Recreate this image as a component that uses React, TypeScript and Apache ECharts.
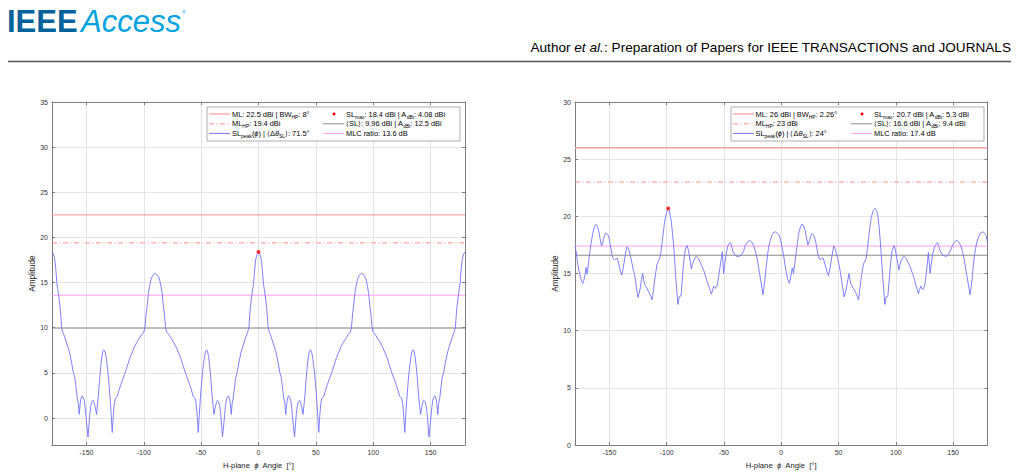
import React, { useEffect, useRef } from "react";
import * as echarts from "echarts";

// Left panel: H-plane pattern (phi in degrees, amplitude in dBi)
const leftPattern: [number, number][] = [
  [-180, 18.4], [-179, 18.2], [-178, 17.8], [-177.3, 17.3], [-176.5, 16.2], [-175.8, 15.0], [-175, 14.3], [-174.2, 13.6],
  [-172.8, 12.1], [-171.6, 10.0], [-170.5, 9.5], [-169, 9.0], [-167, 8.2], [-165, 7.4], [-163, 6.2], [-161.5, 5.1],
  [-160, 4.4], [-159, 3.3], [-158, 2.2], [-157, 1.6], [-156.3, 0.4], [-155.5, 1.5], [-154.7, 2.2], [-153.8, 2.45],
  [-153, 2.35], [-152, 2.0], [-151.2, 1.3], [-150.5, 0.4], [-149.5, -1.0], [-148.6, -2.1], [-147.8, -0.8], [-147, 0.5],
  [-146.2, 1.3], [-145.3, 1.8], [-144.2, 1.95], [-143.3, 1.7], [-142.3, 1.2], [-141.2, 0.4], [-140.4, 1.4], [-139.6, 2.4],
  [-138.5, 4.3], [-137.6, 5.6], [-136.5, 6.8], [-135.5, 7.45], [-134.7, 7.55], [-133.7, 7.3], [-132.8, 6.7], [-132, 5.9],
  [-131, 4.8], [-130.2, 3.6], [-129.3, 2.1], [-128.4, 0.4], [-127.5, -1.6], [-126.6, 0.2], [-125.8, 1.5], [-125, 2.1],
  [-124, 2.3], [-123, 2.4], [-122, 2.9], [-120, 3.7], [-118, 4.4], [-116, 5.1], [-114, 5.9], [-112, 6.7],
  [-110, 7.3], [-108, 7.9], [-106, 8.4], [-104, 8.8], [-102, 9.2], [-100, 9.5], [-99, 10.0], [-98, 11.5],
  [-97, 12.5], [-96, 13.8], [-95, 14.6], [-94, 15.2], [-93, 15.6], [-92, 15.8], [-91, 15.95], [-90, 16.0],
  [-89, 15.95], [-88, 15.8], [-87, 15.6], [-86, 15.2], [-85, 14.6], [-84, 13.8], [-83, 12.5], [-82, 11.5],
  [-81, 10.0], [-80, 9.5], [-78, 9.2], [-76, 8.8], [-74, 8.4], [-72, 7.9], [-70, 7.3], [-68, 6.7],
  [-66, 5.9], [-64, 5.1], [-62, 4.4], [-60, 3.7], [-58, 2.9], [-57, 2.4], [-56, 2.3], [-55, 2.1],
  [-54.2, 1.5], [-53.4, 0.2], [-52.5, -1.6], [-51.6, 0.4], [-50.7, 2.1], [-49.8, 3.6], [-49, 4.8], [-48, 5.9],
  [-47.2, 6.7], [-46.3, 7.3], [-45.3, 7.55], [-44.5, 7.45], [-43.5, 6.8], [-42.4, 5.6], [-41.5, 4.3], [-40.4, 2.4],
  [-39.6, 1.4], [-38.8, 0.4], [-37.7, 1.2], [-36.7, 1.7], [-35.8, 1.95], [-34.7, 1.8], [-33.8, 1.3], [-33, 0.5],
  [-32.2, -0.8], [-31.4, -2.1], [-30.5, -1.0], [-29.5, 0.4], [-28.8, 1.3], [-28, 2.0], [-27, 2.35], [-26.2, 2.45],
  [-25.3, 2.2], [-24.5, 1.5], [-23.7, 0.4], [-23, 1.6], [-22, 2.2], [-21, 3.3], [-20, 4.4], [-18.5, 5.1],
  [-17, 6.2], [-15, 7.4], [-13, 8.2], [-11, 9.0], [-9.5, 9.5], [-8.4, 10.0], [-7.2, 12.1], [-5.8, 13.6],
  [-5, 14.3], [-4.2, 15.0], [-3.5, 16.2], [-2.7, 17.3], [-2, 17.8], [-1, 18.2], [0, 18.4],
  [1, 18.2], [2, 17.8], [2.7, 17.3], [3.5, 16.2], [4.2, 15.0], [5, 14.3], [5.8, 13.6], [7.2, 12.1],
  [8.4, 10.0], [9.5, 9.5], [11, 9.0], [13, 8.2], [15, 7.4], [17, 6.2], [18.5, 5.1], [20, 4.4],
  [21, 3.3], [22, 2.2], [23, 1.6], [23.7, 0.4], [24.5, 1.5], [25.3, 2.2], [26.2, 2.45], [27, 2.35],
  [28, 2.0], [28.8, 1.3], [29.5, 0.4], [30.5, -1.0], [31.4, -2.1], [32.2, -0.8], [33, 0.5], [33.8, 1.3],
  [34.7, 1.8], [35.8, 1.95], [36.7, 1.7], [37.7, 1.2], [38.8, 0.4], [39.6, 1.4], [40.4, 2.4], [41.5, 4.3],
  [42.4, 5.6], [43.5, 6.8], [44.5, 7.45], [45.3, 7.55], [46.3, 7.3], [47.2, 6.7], [48, 5.9], [49, 4.8],
  [49.8, 3.6], [50.7, 2.1], [51.6, 0.4], [52.5, -1.6], [53.4, 0.2], [54.2, 1.5], [55, 2.1], [56, 2.3],
  [57, 2.4], [58, 2.9], [60, 3.7], [62, 4.4], [64, 5.1], [66, 5.9], [68, 6.7], [70, 7.3],
  [72, 7.9], [74, 8.4], [76, 8.8], [78, 9.2], [80, 9.5], [81, 10.0], [82, 11.5], [83, 12.5],
  [84, 13.8], [85, 14.6], [86, 15.2], [87, 15.6], [88, 15.8], [89, 15.95], [90, 16.0], [91, 15.95],
  [92, 15.8], [93, 15.6], [94, 15.2], [95, 14.6], [96, 13.8], [97, 12.5], [98, 11.5], [99, 10.0],
  [100, 9.5], [102, 9.2], [104, 8.8], [106, 8.4], [108, 7.9], [110, 7.3], [112, 6.7], [114, 5.9],
  [116, 5.1], [118, 4.4], [120, 3.7], [122, 2.9], [123, 2.4], [124, 2.3], [125, 2.1], [125.8, 1.5],
  [126.6, 0.2], [127.5, -1.6], [128.4, 0.4], [129.3, 2.1], [130.2, 3.6], [131, 4.8], [132, 5.9], [132.8, 6.7],
  [133.7, 7.3], [134.7, 7.55], [135.5, 7.45], [136.5, 6.8], [137.6, 5.6], [138.5, 4.3], [139.6, 2.4], [140.4, 1.4],
  [141.2, 0.4], [142.3, 1.2], [143.3, 1.7], [144.2, 1.95], [145.3, 1.8], [146.2, 1.3], [147, 0.5], [147.8, -0.8],
  [148.6, -2.1], [149.5, -1.0], [150.5, 0.4], [151.2, 1.3], [152, 2.0], [153, 2.35], [153.8, 2.45], [154.7, 2.2],
  [155.5, 1.5], [156.3, 0.4], [157, 1.6], [158, 2.2], [159, 3.3], [160, 4.4], [161.5, 5.1], [163, 6.2],
  [165, 7.4], [167, 8.2], [169, 9.0], [170.5, 9.5], [171.6, 10.0], [172.8, 12.1], [174.2, 13.6], [175, 14.3],
  [175.8, 15.0], [176.5, 16.2], [177.3, 17.3], [178, 17.8], [179, 18.2], [180, 18.4],
];

// Right panel: H-plane pattern (phi in degrees, amplitude in dBi)
const rightPattern: [number, number][] = [
  [-180, 17.4], [-179, 16.9], [-177.6, 15.85], [-176.5, 15.2], [-175.2, 14.7], [-174.2, 14.3], [-173.2, 14.15], [-172.3, 14.4],
  [-171.5, 14.75], [-170.3, 15.55], [-169.4, 14.95], [-168.7, 15.5], [-168, 16.1], [-166.9, 17.0], [-165.9, 17.7], [-164.7, 18.4],
  [-163.6, 18.9], [-162.6, 19.2], [-161.6, 19.3], [-160.5, 19.1], [-159.3, 18.75], [-158.2, 18.1], [-157, 17.45], [-156.2, 17.5],
  [-155.3, 17.9], [-154.2, 18.35], [-152.9, 18.55], [-151.6, 18.45], [-150.5, 18.2], [-149.5, 17.7], [-148.5, 17.15], [-147.6, 16.6],
  [-146.7, 16.3], [-145.5, 16.2], [-144.5, 16.25], [-143.3, 16.35], [-142.4, 16.1], [-141.5, 15.7], [-140.4, 15.2], [-139.2, 14.85],
  [-138.1, 15.4], [-136.9, 16.1], [-135.7, 16.9], [-134.5, 17.35], [-133.5, 17.2], [-132.5, 16.9], [-131.3, 16.4], [-130.2, 15.85],
  [-129.2, 15.4], [-128.2, 15.0], [-127.3, 14.4], [-126.4, 13.8], [-125.6, 13.2], [-125, 12.9], [-124, 13.3], [-122.9, 13.8],
  [-122, 14.5], [-120.9, 15.0], [-120.1, 14.5], [-119.4, 14.1], [-117.7, 13.8], [-115.7, 13.4], [-114.2, 13.1], [-112.7, 12.7],
  [-111.7, 13.4], [-110.7, 14.25], [-109.5, 15.1], [-108.4, 15.85], [-107.2, 16.1], [-106.1, 16.3], [-105, 16.9], [-104, 17.7],
  [-102.8, 18.7], [-101.7, 19.6], [-100.4, 20.2], [-99.1, 20.65], [-98.6, 20.7], [-97.6, 20.5], [-96.8, 20.0], [-95.9, 19.5],
  [-94.9, 18.5], [-93.9, 17.45], [-93.1, 16.3], [-92.4, 15.1], [-91.6, 14.1], [-90.9, 13.1], [-90.1, 12.3], [-89.5, 12.7],
  [-88.9, 13.0], [-87.4, 13.05], [-86.6, 14.2], [-85.7, 15.4], [-84.7, 16.4], [-83.7, 17.15], [-82.2, 17.45], [-81.2, 17.1],
  [-80.2, 16.6], [-79.3, 16.0], [-78.5, 15.4], [-77.5, 15.8], [-76.5, 16.1], [-75.3, 16.35], [-74.1, 16.5], [-72.6, 16.35],
  [-71.2, 16.1], [-69.5, 15.7], [-67.7, 15.3], [-66.2, 14.8], [-64.8, 14.3], [-62.5, 13.7], [-61, 13.2], [-60, 13.5],
  [-59, 13.9], [-58.2, 13.8], [-57.5, 13.7], [-55.8, 14.0], [-55, 14.5], [-54.1, 15.1], [-53.2, 15.7], [-52.3, 16.3],
  [-51.4, 16.9], [-50.9, 16.0], [-50.3, 15.0], [-49.4, 15.8], [-48.5, 16.4], [-47.5, 17.0], [-46.5, 17.45], [-45.3, 17.65],
  [-44.2, 17.7], [-43.1, 17.3], [-42.1, 16.9], [-40.1, 16.6], [-38.6, 16.5], [-37.2, 16.5], [-35.7, 16.55], [-34.3, 16.7],
  [-32.8, 17.0], [-31.4, 17.45], [-29.5, 17.75], [-27.6, 17.9], [-25.8, 17.75], [-24.1, 17.45], [-22.6, 17.0], [-21.2, 16.4],
  [-20, 15.7], [-18.9, 15.0], [-17.8, 14.3], [-16.8, 13.7], [-16, 13.15], [-15, 13.9], [-13.9, 14.8], [-12.9, 15.8],
  [-11.9, 16.7], [-10.8, 17.4], [-9.6, 17.9], [-8.2, 18.35], [-6.7, 18.6], [-4.5, 18.65], [-3.2, 18.5], [-2, 18.35],
  [-0.9, 18.1], [0.5, 17.4], [2, 16.6], [3.2, 15.8], [4.4, 15.1], [5.7, 14.5], [7, 14.15], [7.8, 14.4],
  [8.5, 14.85], [9.6, 15.5], [10.7, 15.0], [11.8, 15.9], [13.1, 16.85], [14.3, 17.8], [15.4, 18.6], [16.8, 19.1],
  [18.3, 19.33], [19.6, 19.15], [20.9, 18.75], [22.1, 18.1], [23.3, 17.5], [24.7, 17.9], [25.8, 18.3], [27, 18.5],
  [28.3, 18.35], [29.6, 18.0], [30.8, 17.4], [32, 16.7], [33, 16.35], [34, 16.2], [35.2, 16.3], [36.3, 16.37],
  [37.4, 16.1], [38.4, 15.7], [39.8, 15.2], [41.2, 14.8], [42.4, 15.4], [43.6, 16.1], [44.8, 16.9], [45.9, 17.4],
  [46.9, 17.2], [47.9, 16.85], [49.2, 16.3], [50.6, 15.7], [51.8, 15.0], [52.9, 14.25], [53.9, 13.6], [54.9, 12.95],
  [56.1, 13.4], [57.3, 13.95], [58.2, 14.5], [59, 15.0], [59.9, 14.5], [60.8, 14.1], [63, 13.7], [65.4, 13.25],
  [66.4, 13.0], [67.4, 12.7], [68.4, 13.5], [69.5, 14.4], [70.6, 15.2], [71.8, 15.85], [73, 16.1], [74.1, 16.3],
  [75.1, 17.1], [76.1, 18.0], [77.3, 19.0], [78.5, 19.9], [80.2, 20.5], [82, 20.7], [83.2, 20.5], [84.3, 20.05],
  [85.3, 19.2], [86.3, 18.0], [87.3, 16.6], [88.3, 15.1], [89.1, 14.0], [89.8, 13.1], [90.4, 12.3], [91, 12.7],
  [91.5, 12.95], [93, 13.0], [94, 14.2], [95, 15.4], [95.9, 16.3], [96.8, 17.0], [98.5, 17.45], [99.4, 17.15],
  [100.3, 16.7], [101.5, 16.0], [102.6, 15.3], [103.6, 15.8], [104.6, 16.1], [105.9, 16.35], [107.2, 16.5], [108.7, 16.35],
  [110.1, 16.1], [111.6, 15.8], [113.1, 15.4], [114.6, 15.0], [116, 14.55], [117.2, 14.1], [118.3, 13.7], [119.7, 13.25],
  [120.7, 13.6], [121.8, 13.9], [122.6, 13.75], [123.5, 13.6], [124.5, 13.8], [125.5, 14.1], [126.3, 14.8], [127, 15.4],
  [127.7, 16.1], [128.4, 16.85], [129.1, 16.0], [129.9, 15.0], [130.9, 15.8], [131.9, 16.6], [133.1, 17.1], [134.3, 17.45],
  [136.3, 17.7], [137.5, 17.4], [138.6, 17.0], [141, 16.6], [143.9, 16.5], [145.3, 16.6], [146.7, 16.8], [148.2, 17.15],
  [149.7, 17.5], [151.5, 17.8], [153.2, 17.9], [155, 17.75], [156.7, 17.45], [158.2, 16.9], [159.5, 16.3], [160.7, 15.6],
  [161.9, 14.85], [163, 14.2], [163.9, 13.7], [164.8, 13.15], [165.7, 13.8], [166.6, 14.55], [167.6, 15.6], [168.6, 16.6],
  [169.6, 17.2], [170.6, 17.7], [172, 18.15], [173.5, 18.5], [175.9, 18.65], [177.4, 18.55], [178.8, 18.3], [180, 17.7],
];

// Reference levels: [ML, ML_HP, <SL>, MLC line]
const leftLevels = [22.5, 19.4, 9.96, 13.6];
const rightLevels = [26, 23, 16.6, 17.4];
const leftPeak: [number, number] = [0, 18.4];
const rightPeak: [number, number] = [-98.6, 20.7];
const phiRange = [-180, 180];
const leftAmpRange = [-3, 35];
const rightAmpRange = [0, 30];

const leftLegend = [
  "{t|ML: 22.5 dBi | BW}{s|HP}{t|: 8°}",
  "{t|ML}{s|HP}{t|: 19.4 dBi}",
  "{t|SL}{s|peak}{t|(}{i|ϕ}{t|) | ⟨Δ}{i|θ}{s|SL}{t|⟩: 71.5°}",
  "{t|SL}{s|max}{t|: 18.4 dBi | A}{s|dBi}{t|: 4.08 dBi}",
  "{t|⟨SL⟩: 9.96 dBi | A}{s|dBi}{t|: 12.5 dBi}",
  "{t|MLC ratio: 13.6 dB}",
];
const rightLegend = [
  "{t|ML: 26 dBi | BW}{s|HP}{t|: 2.26°}",
  "{t|ML}{s|HP}{t|: 23 dBi}",
  "{t|SL}{s|peak}{t|(}{i|ϕ}{t|) | ⟨Δ}{i|θ}{s|SL}{t|⟩: 24°}",
  "{t|SL}{s|max}{t|: 20.7 dBi | A}{s|dBi}{t|: 5.3 dBi}",
  "{t|⟨SL⟩: 16.6 dBi | A}{s|dBi}{t|: 9.4 dBi}",
  "{t|MLC ratio: 17.4 dB}",
];

const FONT = "'Liberation Sans', Arial, Helvetica, sans-serif";
const AXIS = "#7d7d7d";
const GRIDC = "#e4e4e4";
const C_ML = "#ffa3a3";
const C_MLHP = "#ff8f8f";
const C_SL = "#8a8a8a";
const C_MLC = "#ff9cff";
const C_CURVE = "#7272ff";
const C_DOT = "#ff0000";
const DASHDOT = [5, 2.5, 1, 2.5];

const legendRich = {
  t: { fontSize: 7.4, fontFamily: FONT, color: "#222", lineHeight: 10 },
  i: { fontSize: 7.4, fontFamily: FONT, color: "#222", lineHeight: 10, fontStyle: "italic" },
  s: { fontSize: 5, fontFamily: FONT, color: "#222", lineHeight: 6, verticalAlign: "bottom" },
};

function legendGraphic(bx: number, texts: string[], c1Line: number, c1Text: number, c2Line: number, c2Text: number) {
  const by = 107;
  const rows = [114, 123.8, 133.4];
  const els: any[] = [
    { type: "rect", shape: { x: bx, y: by, width: 253, height: 34 }, style: { fill: "#fff", stroke: "#9a9a9a", lineWidth: 0.8 }, z: 100 },
  ];
  const c1Colors = [C_ML, C_MLHP, C_CURVE];
  const c1Dash: any[] = [null, DASHDOT, null];
  for (let r = 0; r < 3; r++) {
    els.push({
      type: "line", z: 101,
      shape: { x1: bx + c1Line, y1: rows[r], x2: bx + c1Line + 21, y2: rows[r] },
      style: { stroke: c1Colors[r], lineWidth: r === 0 ? 1.3 : 1, lineDash: c1Dash[r] || undefined },
    });
    els.push({
      type: "text", z: 101,
      style: { x: bx + c1Text, y: rows[r], text: texts[r], rich: legendRich, verticalAlign: "middle", align: "left" },
    });
  }
  els.push({ type: "circle", z: 101, shape: { cx: bx + c2Line + 11, cy: rows[0], r: 1.5 }, style: { fill: C_DOT } });
  els.push({ type: "line", z: 101, shape: { x1: bx + c2Line, y1: rows[1], x2: bx + c2Line + 21, y2: rows[1] }, style: { stroke: C_SL, lineWidth: 1 } });
  els.push({ type: "line", z: 101, shape: { x1: bx + c2Line, y1: rows[2], x2: bx + c2Line + 21, y2: rows[2] }, style: { stroke: C_MLC, lineWidth: 1 } });
  for (let r = 0; r < 3; r++) {
    els.push({
      type: "text", z: 101,
      style: { x: bx + c2Text, y: rows[r], text: texts[3 + r], rich: legendRich, verticalAlign: "middle", align: "left" },
    });
  }
  return els;
}

function mainX(gridIndex: number) {
  return {
    type: "value", gridIndex, position: "bottom", min: phiRange[0], max: phiRange[1], minInterval: 50, maxInterval: 50,
    axisLine: { show: true, onZero: false, lineStyle: { color: AXIS, width: 1 } },
    axisTick: { show: true, inside: true, length: 3, lineStyle: { color: AXIS } },
    axisLabel: { color: "#333", fontSize: 7, fontFamily: FONT, margin: 4, showMinLabel: false, showMaxLabel: false },
    splitLine: { show: true, lineStyle: { color: GRIDC, width: 1 } },
    name: "{a|H-plane  }{b|ϕ}{a|  Angle  [°]}",
    nameLocation: "middle", nameGap: 11,
    nameTextStyle: {
      rich: {
        a: { fontSize: 7.7, fontFamily: FONT, color: "#222" },
        b: { fontSize: 7.7, fontFamily: FONT, color: "#222", fontStyle: "italic" },
      },
    },
  };
}
function topX(gridIndex: number) {
  return {
    type: "value", gridIndex, position: "top", min: phiRange[0], max: phiRange[1], minInterval: 50, maxInterval: 50,
    axisLine: { show: true, onZero: false, lineStyle: { color: AXIS, width: 1 } },
    axisTick: { show: true, inside: true, length: 3, lineStyle: { color: AXIS } },
    axisLabel: { show: false }, splitLine: { show: false },
  };
}
function mainY(gridIndex: number, range: number[], showMin: boolean) {
  return {
    type: "value", gridIndex, position: "left", min: range[0], max: range[1], minInterval: 5, maxInterval: 5,
    axisLine: { show: true, onZero: false, lineStyle: { color: AXIS, width: 1 } },
    axisTick: { show: true, inside: true, length: 3, lineStyle: { color: AXIS } },
    axisLabel: { color: "#333", fontSize: 7, fontFamily: FONT, margin: 4, showMinLabel: showMin },
    splitLine: { show: true, lineStyle: { color: GRIDC, width: 1 } },
    name: "Amplitude", nameLocation: "middle", nameGap: 13, nameRotate: 90,
    nameTextStyle: { fontSize: 8.2, fontFamily: FONT, color: "#222" },
  };
}
function rightY(gridIndex: number, range: number[]) {
  return {
    type: "value", gridIndex, position: "right", min: range[0], max: range[1], minInterval: 5, maxInterval: 5,
    axisLine: { show: true, onZero: false, lineStyle: { color: AXIS, width: 1 } },
    axisTick: { show: true, inside: true, length: 3, lineStyle: { color: AXIS } },
    axisLabel: { show: false }, splitLine: { show: false },
  };
}

function panelSeries(xi: number, yi: number, pattern: [number, number][], levels: number[], peak: [number, number]) {
  const hline = (v: number) => [[phiRange[0], v], [phiRange[1], v]];
  const base = { type: "line", xAxisIndex: xi, yAxisIndex: yi, showSymbol: false, symbol: "none", silent: true };
  return [
    { ...base, name: "ML", data: hline(levels[0]), lineStyle: { color: C_ML, width: 1.4 } },
    { ...base, name: "ML_HP", data: hline(levels[1]), lineStyle: { color: C_MLHP, width: 1, type: DASHDOT } },
    { ...base, name: "SL mean", data: hline(levels[2]), lineStyle: { color: C_SL, width: 1 } },
    { ...base, name: "MLC", data: hline(levels[3]), lineStyle: { color: C_MLC, width: 1 } },
    { ...base, name: "SL peak", data: pattern, lineStyle: { color: C_CURVE, width: 0.9 } },
    {
      type: "scatter", xAxisIndex: xi, yAxisIndex: yi, name: "SL max", data: [peak], symbol: "circle", symbolSize: 4,
      itemStyle: { color: C_DOT }, silent: true, z: 5,
    },
  ];
}

export default function App() {
  const ref = useRef<HTMLDivElement>(null);
  useEffect(() => {
    if (!ref.current) return;
    const chart = echarts.init(ref.current, undefined, { renderer: "svg" });
    const header: any[] = [
      { type: "text", z: 100, style: { x: 7, y: 21, text: "IEEE", fontSize: 31, fontWeight: "bold", fontFamily: FONT, fill: "#00629b", verticalAlign: "middle" } },
      { type: "text", z: 100, style: { x: 81, y: 21, text: "Access", fontSize: 31, fontFamily: FONT, fill: "#00a3e0", verticalAlign: "middle", fontStyle: "italic" } },
      { type: "text", z: 100, style: { x: 182, y: 12, text: "®", fontSize: 5, fontFamily: FONT, fill: "#00a3e0", verticalAlign: "middle" } },
      {
        type: "text", z: 100,
        style: {
          x: 1011, y: 47.5, align: "right", verticalAlign: "middle",
          text: "{n|Author }{i|et al.}{n|: Preparation of Papers for IEEE TRANSACTIONS and JOURNALS}",
          rich: {
            n: { fontSize: 13.6, fontFamily: FONT, color: "#111" },
            i: { fontSize: 13.6, fontFamily: FONT, color: "#111", fontStyle: "italic" },
          },
        },
      },
      { type: "line", z: 100, shape: { x1: 8, y1: 61.5, x2: 1011, y2: 61.5 }, style: { stroke: "#555", lineWidth: 1.3 } },
    ];
    const option: any = {
      animation: false,
      backgroundColor: "#fff",
      grid: [
        { left: 52, top: 102, width: 413, height: 345 },
        { left: 575, top: 102, width: 412.5, height: 345 },
      ],
      xAxis: [mainX(0), topX(0), mainX(1), topX(1)],
      yAxis: [mainY(0, leftAmpRange, false), rightY(0, leftAmpRange), mainY(1, rightAmpRange, true), rightY(1, rightAmpRange)],
      series: [
        ...panelSeries(0, 0, leftPattern, leftLevels, leftPeak),
        ...panelSeries(2, 2, rightPattern, rightLevels, rightPeak),
      ],
      graphic: [
        ...header,
        ...legendGraphic(207, leftLegend, 2, 25, 116, 139),
        ...legendGraphic(731, rightLegend, 2, 24.5, 120, 143),
      ],
    };
    chart.setOption(option);
    return () => chart.dispose();
  }, []);
  return <div ref={ref} style={{ position: "fixed", left: 0, top: 0, width: 1019, height: 474 }} />;
}
